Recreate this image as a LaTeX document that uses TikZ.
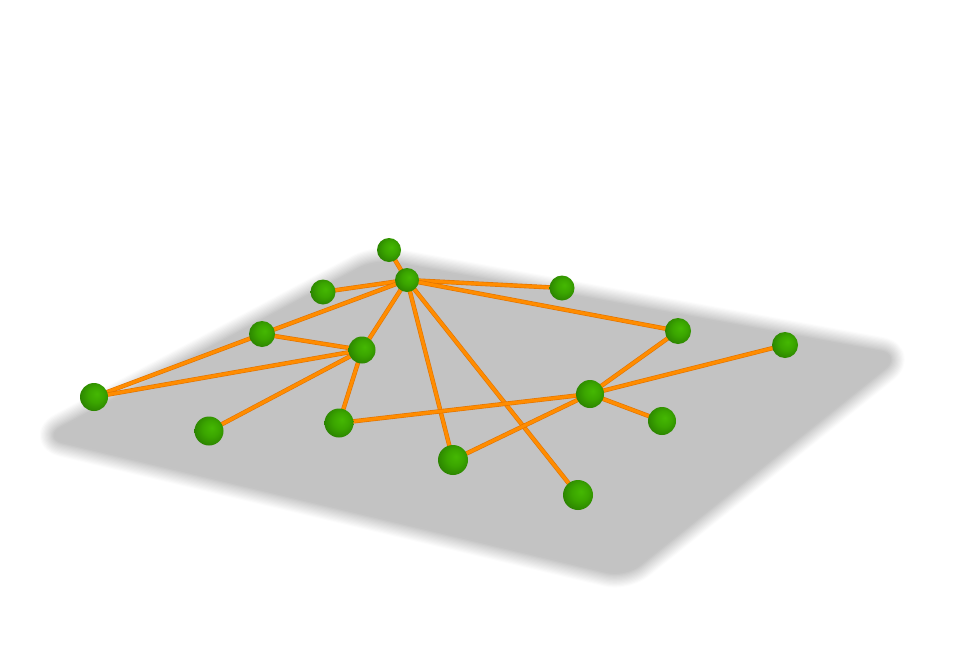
\documentclass[tikz,border=0pt]{standalone}
\usepackage{xcolor}
\usepackage{tikz}

\definecolor{edgeorange}{RGB}{255,140,0}
\definecolor{edgerim}{RGB}{225,115,0}
\definecolor{planegray}{RGB}{195,195,195}
\pgfdeclareradialshading{greenball}{\pgfpoint{5bp}{6bp}}{%
  rgb(0bp)=(0.27,0.72,0.01); rgb(14bp)=(0.23,0.65,0);
  rgb(26bp)=(0.18,0.54,0); rgb(34bp)=(0.13,0.42,0); rgb(50bp)=(0.12,0.40,0)}
\pgfdeclarelayer{plane}
\pgfdeclarelayer{edges}
\pgfsetlayers{plane,edges,main}

\begin{document}
\begin{tikzpicture}[x=1pt, y=-1pt,
  vtx/.style={circle, inner sep=0pt, minimum size=#1, shading=greenball},
  edge/.style={line width=0.6pt, draw=edgerim, double=edgeorange,
               double distance=3.2pt},
  slab/.style={rounded corners=18pt, line join=round}
]
\useasboundingbox (0,0) rectangle (979,645);
% Back row
\node[vtx=24pt] (v1)  at (389,250) {};
\node[vtx=24pt] (v2)  at (407,280) {};
\node[vtx=25pt] (v3)  at (323,292) {};
\node[vtx=25pt] (v4)  at (562,288) {};
% Middle row
\node[vtx=26pt] (v5)  at (262,334) {};
\node[vtx=27pt] (v6)  at (362,350) {};
\node[vtx=26pt] (v7)  at (678,331) {};
\node[vtx=26pt] (v8)  at (785,345) {};
\node[vtx=28pt] (v9)  at (94,397)  {};
\node[vtx=28pt] (v10) at (590,394) {};
% Front row
\node[vtx=28pt] (v11) at (662,421) {};
\node[vtx=29pt] (v12) at (209,431) {};
\node[vtx=29pt] (v13) at (339,423) {};
\node[vtx=30pt] (v14) at (453,460) {};
\node[vtx=30pt] (v15) at (578,495) {};
% Edges
\begin{pgfonlayer}{edges}
\draw[edge] (v1.center) -- (v2.center);
\draw[edge] (v2.center) -- (v3.center);
\draw[edge] (v2.center) -- (v4.center);
\draw[edge] (v2.center) -- (v5.center);
\draw[edge] (v2.center) -- (v6.center);
\draw[edge] (v2.center) -- (v7.center);
\draw[edge] (v2.center) -- (v14.center);
\draw[edge] (v2.center) -- (v15.center);
\draw[edge] (v5.center) -- (v6.center);
\draw[edge] (v5.center) -- (v9.center);
\draw[edge] (v9.center) -- (v6.center);
\draw[edge] (v12.center) -- (v6.center);
\draw[edge] (v13.center) -- (v6.center);
\draw[edge] (v13.center) -- (v10.center);
\draw[edge] (v14.center) -- (v10.center);
\draw[edge] (v10.center) -- (v7.center);
\draw[edge] (v10.center) -- (v8.center);
\draw[edge] (v10.center) -- (v11.center);
\end{pgfonlayer}
% Plane with soft border
\begin{pgfonlayer}{plane}
\foreach \i [evaluate=\i as \w using 32-2.5*\i,
             evaluate=\i as \c using 2*\i+1] in {0,...,11}
  \draw[slab, line width=\w pt, black!\c]
    (46,437) -- (376,261) -- (898,356) -- (625,575) -- cycle;
\fill[slab, planegray]
  (46,437) -- (376,261) -- (898,356) -- (625,575) -- cycle;
\end{pgfonlayer}
\end{tikzpicture}
\end{document}
